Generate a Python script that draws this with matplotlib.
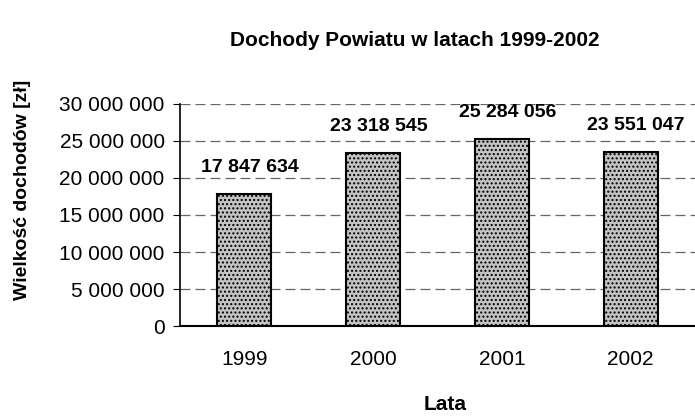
import numpy as np
import matplotlib.pyplot as plt

plt.rcParams['font.family'] = ['Liberation Sans', 'DejaVu Sans']

lata = ['1999', '2000', '2001', '2002']
dochody = [17847634, 23318545, 25284056, 23551047]
y_ticks = [0, 5000000, 10000000, 15000000, 20000000, 25000000, 30000000]


def fmt(v):
    return '{:,}'.format(v).replace(',', ' ')


fig = plt.figure(figsize=(6.95, 4.17), dpi=100)
ax = fig.add_axes([0.259, 0.218, 0.741, 0.533])

x = np.arange(len(lata))
ax.bar(x, dochody, width=0.42, color='#c4c4c4', edgecolor='black',
       linewidth=1.5, hatch='....', zorder=3)
for xi, v in zip(x, dochody):
    ax.annotate(fmt(v), (xi, v), xytext=(4, 13), textcoords='offset points',
                ha='center', va='bottom', fontsize=14, fontweight='bold')

ax.set_xlim(-0.5, 3.5)
ax.set_ylim(0, 30000000)
ax.set_yticks(y_ticks)
ax.set_yticklabels([fmt(t) for t in y_ticks], fontsize=15)
ax.set_xticks(x)
ax.set_xticklabels(lata, fontsize=15)
ax.tick_params(axis='x', length=0, pad=17)
ax.tick_params(axis='y', length=5, pad=6)
ax.yaxis.grid(True, color='#666666', linestyle=(0, (8, 4)), linewidth=0.9)
ax.set_axisbelow(True)
for s in ['top', 'right']:
    ax.spines[s].set_visible(False)
ax.spines['left'].set_linewidth(1.2)
ax.spines['bottom'].set_linewidth(1.5)

fig.text(0.597, 0.904, 'Dochody Powiatu w latach 1999-2002', ha='center',
         va='center', fontsize=15, fontweight='bold')
fig.text(0.032, 0.544, 'Wielkość dochodów [zł]', ha='center', va='center',
         rotation=90, fontsize=14, fontweight='bold')
fig.text(0.64, 0.03, 'Lata', ha='center', va='center', fontsize=15,
         fontweight='bold')

fig.savefig('out.png', dpi=100)
